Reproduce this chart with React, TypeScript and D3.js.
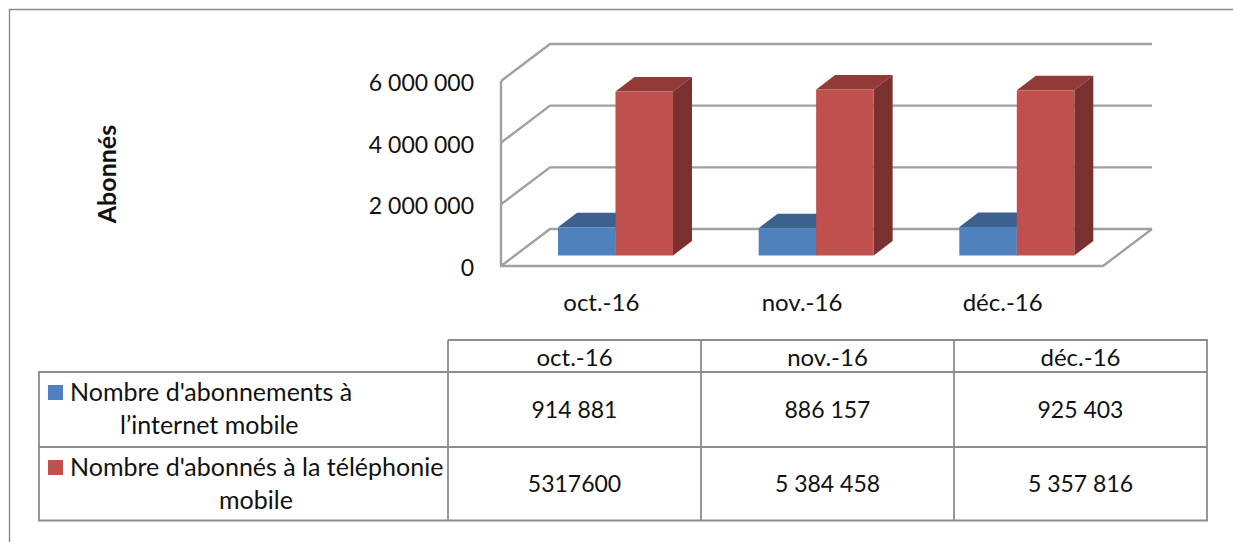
import React from "react";
import * as d3 from "d3";

const months = ["oct.-16", "nov.-16", "déc.-16"];
const internetMobile = [914881, 886157, 925403];
const telephonieMobile = [5317600, 5384458, 5357816];
const internetLabels = ["914 881", "886 157", "925 403"];
const telephonieLabels = ["5317600", "5 384 458", "5 357 816"];
const yTicks = [0, 2000000, 4000000, 6000000];
const yTickLabels = ["0", "2 000 000", "4 000 000", "6 000 000"];
const FONT = "Lato, Carlito, 'Open Sans', sans-serif";

const W = 1233, H = 542;
const floorFrontY = 266, floorBackY = 229;
const frontX = 501, backX = 550, rightBack = 1152, rightFront = 1103;
const gridColor = "#a0a0a0";
const edge = "#8c8c8c";

const y = d3.scaleLinear().domain([0, 6000000]).range([floorBackY, 44]);
const x = d3.scaleBand<string>().domain(months).range([frontX, rightFront]);
const barDepthX = 19, barDepthY = 14.5;
const baseY = 255.5;
const h = (v: number) => y(0) - y(v);

const rows = [
  { color: "#4f81bd", labels: internetLabels, lines: [{ t: "Nombre d'abonnements à", x: 70 }, { t: "l’internet mobile", x: 120 }], top: 372, bot: 447 },
  { color: "#c0504d", labels: telephonieLabels, lines: [{ t: "Nombre d'abonnés à la téléphonie", x: 70 }, { t: "mobile", x: 219 }], top: 447, bot: 520.5 },
];
const colX = [448, 701, 954, 1207];

function Bar({ x0, w, v, front, top, side }: { x0: number; w: number; v: number; front: string; top: string; side: string }) {
  const t = baseY - h(v);
  const pts = (p: number[][]) => p.map((q) => q.join(",")).join(" ");
  return (
    <g>
      <polygon fill={top} points={pts([[x0, t], [x0 + barDepthX, t - barDepthY], [x0 + w + barDepthX, t - barDepthY], [x0 + w, t]])} />
      <polygon fill={side} points={pts([[x0 + w, t], [x0 + w + barDepthX, t - barDepthY], [x0 + w + barDepthX, baseY - barDepthY], [x0 + w, baseY]])} />
      <rect x={x0} y={t} width={w} height={baseY - t} fill={front} />
    </g>
  );
}

export default function App() {
  const band = x.bandwidth();
  const barW = band * 0.2865;
  const inset = band * 0.284;
  return (
    <svg width={W} height={H} style={{ position: "absolute", left: 0, top: 0, background: "#fff" }} fontFamily={FONT}>
      <path d={`M9.5 542V9.5H${W}`} fill="none" stroke="#8a8a8a" strokeWidth={1.4} />
      {yTicks.map((t, i) => {
        const by = y(t);
        const fy = by + (floorFrontY - floorBackY);
        return (
          <g key={t}>
            <path d={`M${frontX} ${fy}L${backX} ${by}H${rightBack}`} fill="none" stroke={gridColor} strokeWidth={2.4} />
            <text x={474} y={fy + 10} textAnchor="end" fontSize={23} fill="#111">{yTickLabels[i]}</text>
          </g>
        );
      })}
      <path d={`M${frontX} ${y(6000000) + 37}V${floorFrontY}H${rightFront}L${rightBack} ${floorBackY}`} fill="none" stroke={gridColor} strokeWidth={2.4} />
      {months.map((m, i) => {
        const x0 = (x(m) as number) + inset;
        return (
          <g key={m}>
            <Bar x0={x0} w={barW} v={internetMobile[i]} front="#4f81bd" top="#3c618f" side="#35567f" />
            <Bar x0={x0 + barW} w={barW} v={telephonieMobile[i]} front="#c0504d" top="#923a37" side="#7a302e" />
            <text x={(x(m) as number) + band / 2} y={311} textAnchor="middle" fontSize={24} fill="#111">{m}</text>
          </g>
        );
      })}
      <text transform="translate(116,174) rotate(-90)" textAnchor="middle" fontSize={25} fontWeight={700} fill="#111">Abonnés</text>

      <g fill="none" stroke={edge} strokeWidth={1.8}>
        <path d={`M${colX[0]} 340H${colX[3]}V520.5H39V372H${colX[3]}`} />
        <path d="M39 447H1207" />
        {colX.slice(0, 3).map((c) => <path key={c} d={`M${c} 340V520.5`} />)}
      </g>
      {months.map((m, i) => (
        <text key={m} x={(colX[i] + colX[i + 1]) / 2} y={366} textAnchor="middle" fontSize={24} fill="#111">{m}</text>
      ))}
      {rows.map((r) => (
        <g key={r.color}>
          <rect x={48} y={r.top + 13} width={15} height={15} fill={r.color} />
          {r.lines.map((l, j) => (
            <text key={l.t} x={l.x} y={r.top + 29 + j * 33} fontSize={25} fill="#111">{l.t}</text>
          ))}
          {r.labels.map((v, i) => (
            <text key={i} x={(colX[i] + colX[i + 1]) / 2} y={(r.top + r.bot) / 2 + 8} textAnchor="middle" fontSize={23} fill="#111">{v}</text>
          ))}
        </g>
      ))}
    </svg>
  );
}
